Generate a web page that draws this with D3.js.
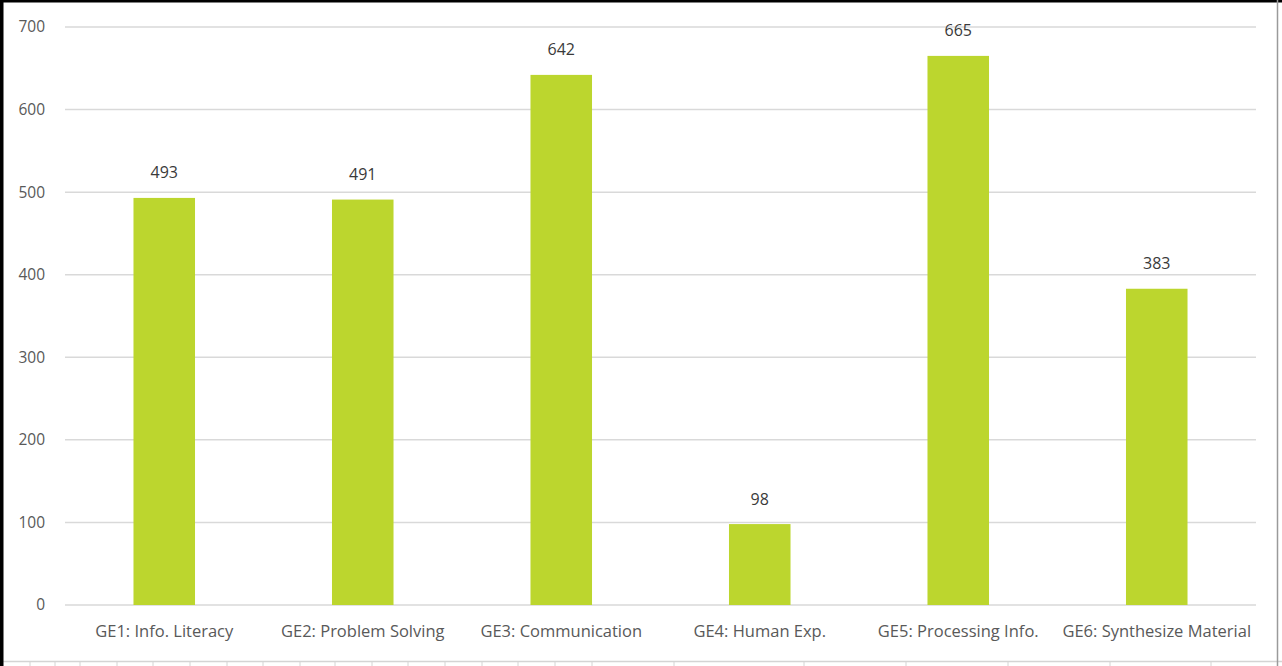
<!DOCTYPE html>
<html>
<head>
<meta charset="utf-8">
<script src="https://cdn.jsdelivr.net/npm/d3@7"></script>
<style>
  html, body { margin: 0; padding: 0; background: #fff; }
  svg { display: block; }
</style>
</head>
<body>
<svg id="chart" width="1282" height="666"></svg>
<script>
// General-education outcome counts
const categories = [
  "GE1: Info. Literacy",
  "GE2: Problem Solving",
  "GE3: Communication",
  "GE4: Human Exp.",
  "GE5: Processing Info.",
  "GE6: Synthesize Material"
];
const counts = [493, 491, 642, 98, 665, 383];
const yTicks = [0, 100, 200, 300, 400, 500, 600, 700];

// Spreadsheet column edges peeking in under the chart frame
const sheetColumnEdges = [30, 55, 80, 117, 153, 190, 227, 263, 300, 335, 372, 408, 445, 482, 518, 555, 592, 674, 804, 906, 1008, 1110, 1211];

const W = 1282, H = 666;
const margin = { left: 65, right: 26, top: 27, bottom: 61 };
const font = "'Liberation Sans Narrow', 'Open Sans', 'Noto Sans', sans-serif";

const svg = d3.select("#chart");

const x = d3.scaleBand()
  .domain(categories)
  .range([margin.left, W - margin.right])
  .paddingInner(0.69)
  .paddingOuter(0.345);

const y = d3.scaleLinear()
  .domain([0, 700])
  .range([H - margin.bottom, margin.top]);

// Horizontal gridlines
svg.append("g")
  .selectAll("line")
  .data(yTicks)
  .join("line")
  .attr("x1", margin.left)
  .attr("x2", W - margin.right)
  .attr("y1", d => y(d))
  .attr("y2", d => y(d))
  .attr("stroke", "#d9d9d9")
  .attr("stroke-width", 1.5);

// Y axis labels
const yAxis = d3.axisLeft(y).tickValues(yTicks).tickSize(0).tickPadding(0);
const yg = svg.append("g")
  .attr("transform", `translate(${margin.left - 20},0)`)
  .call(yAxis);
yg.select(".domain").remove();
yg.selectAll("text")
  .attr("fill", "#595959")
  .style("font-family", font)
  .style("font-size", "15.5px");

// Bars
svg.append("g")
  .selectAll("rect")
  .data(counts)
  .join("rect")
  .attr("x", (d, i) => x(categories[i]))
  .attr("width", x.bandwidth())
  .attr("y", d => y(d))
  .attr("height", d => y(0) - y(d))
  .attr("fill", "#bcd62e");

// Value labels
svg.append("g")
  .selectAll("text")
  .data(counts)
  .join("text")
  .attr("x", (d, i) => x(categories[i]) + x.bandwidth() / 2)
  .attr("y", d => y(d) - 19.5)
  .attr("text-anchor", "middle")
  .attr("fill", "#3a3a3a")
  .style("font-family", font)
  .style("font-size", "16px")
  .text(d => d);

// Category axis labels
const xAxis = d3.axisBottom(x).tickSize(0).tickPadding(20);
const xg = svg.append("g")
  .attr("transform", `translate(0,${y(0)})`)
  .call(xAxis);
xg.select(".domain").remove();
xg.selectAll("text")
  .attr("fill", "#595959")
  .style("font-family", font)
  .style("font-size", "16.5px");

// Sheet gridline strip along the bottom
const frame = svg.append("g");
frame.append("line")
  .attr("x1", 0).attr("x2", W)
  .attr("y1", 661.5).attr("y2", 661.5)
  .attr("stroke", "#d4d4d4").attr("stroke-width", 1.5);
frame.selectAll("line.col")
  .data(sheetColumnEdges)
  .join("line")
  .attr("class", "col")
  .attr("x1", d => d).attr("x2", d => d)
  .attr("y1", 662).attr("y2", H)
  .attr("stroke", "#d4d4d4").attr("stroke-width", 1);

// Frame edges
frame.append("rect")
  .attr("x", 0).attr("y", 0).attr("width", W).attr("height", 2.5)
  .attr("fill", "#000");
frame.append("rect")
  .attr("x", 0).attr("y", 0).attr("width", 3.5).attr("height", H)
  .attr("fill", "#000");
frame.append("line")
  .attr("x1", 1277.5).attr("x2", 1277.5)
  .attr("y1", 0).attr("y2", H)
  .attr("stroke", "#9a9a9a").attr("stroke-width", 1.5);
</script>
</body>
</html>
